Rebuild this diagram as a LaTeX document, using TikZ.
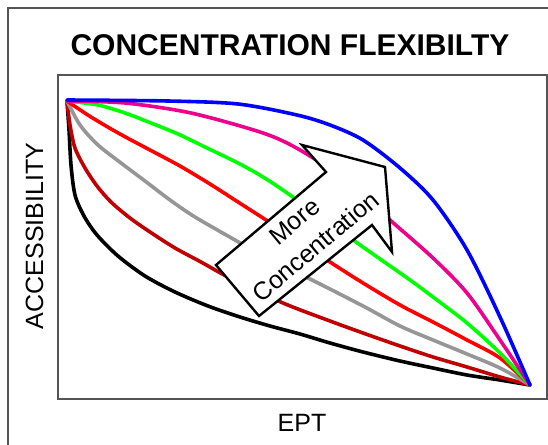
\documentclass[tikz,border=0pt]{standalone}
\usepackage{fontspec}
\setmainfont{Liberation Sans}
\usepackage{tikz}
\usetikzlibrary{positioning}
\definecolor{darkred}{RGB}{192,0,0}
\definecolor{midgray}{RGB}{150,150,150}
\definecolor{framegray}{RGB}{85,85,85}
\tikzset{curve/.style={line width=3.6pt,line join=round,line cap=round},
         frame/.style={draw=framegray,line width=1.8pt}}

\begin{document}
\begin{tikzpicture}[x=1pt,y=-1pt]
    \useasboundingbox (0,0) rectangle (548,444);
    \fill[white] (0,0) rectangle (548,444);
    \draw[frame] (8,460) -- (8,8) -- (560,8);
    \draw[frame] (58,75) rectangle (547,399);

    \node[font=\bfseries\fontsize{30}{32}\selectfont,anchor=base] (title) at (290,56) {CONCENTRATION FLEXIBILTY};
    \node[font=\fontsize{25}{27}\selectfont,rotate=90,anchor=base] (ylab) at (43,236) {ACCESSIBILITY};
    \node[font=\fontsize{25}{27}\selectfont,anchor=base] (xlab) at (302,431) {EPT};

    \draw[curve,black] plot[smooth,tension=0.5] coordinates {(67,101) (69,130) (71,165) (75,195) (84,216) (97,235) (118,256) (145,276) (175,292) (208,306) (240,317) (270,326) (300,334) (330,343) (363,352) (400,361) (433,368) (467,375) (500,380) (530,385)};
    \draw[curve,darkred] plot[smooth,tension=0.5] coordinates {(67,101) (70,125) (75,148) (85,168) (97,186) (111,202) (130,218) (150,232) (175,248) (201,262) (230,278) (283,303) (330,321) (363,333) (400,346) (433,357) (467,367) (500,377) (530,385)};
    \draw[curve,midgray] plot[smooth,tension=0.5] coordinates {(67,101) (80,125) (98,145) (121,163) (145,181) (170,200) (195,217) (235,240) (270,260) (310,279) (363,306) (400,326) (433,340) (467,354) (500,368) (530,385)};
    \draw[curve,red] plot[smooth,tension=0.5] coordinates {(67,101) (91,117) (120,134) (150,150) (180,166) (210,184) (238,202) (263,218) (300,242) (330,262) (363,283) (400,305) (433,322) (467,340) (500,358) (530,385)};
    \draw[curve,green] plot[smooth,tension=0.5] coordinates {(67,101) (98,105) (125,113) (151,123) (178,134) (205,147) (238,163) (263,177) (290,195) (363,247) (410,280) (433,297) (467,323) (500,353) (530,385)};
    \draw[curve,magenta] plot[smooth,tension=0.5] coordinates {(67,101) (125,103) (191,113) (263,133) (300,150) (345,180) (390,220) (433,258) (467,293) (500,340) (530,385)};
    \draw[curve,blue] plot[smooth,tension=0.5] coordinates {(67,100) (168,101) (238,104) (297,115) (330,125) (363,140) (400,168) (433,200) (467,250) (500,317) (530,385)};

    % block arrow
    \draw[fill=white,line width=2.4pt,line join=miter]
        (216,265) -- (326,172) -- (302,145) -- (385,167) -- (392,252) -- (372,225) -- (259,316) -- cycle;
    \node[font=\fontsize{25}{33}\selectfont,rotate=40,align=center,inner sep=0pt] (more) at (305,234) {More\\Concentration};
\end{tikzpicture}
\end{document}
